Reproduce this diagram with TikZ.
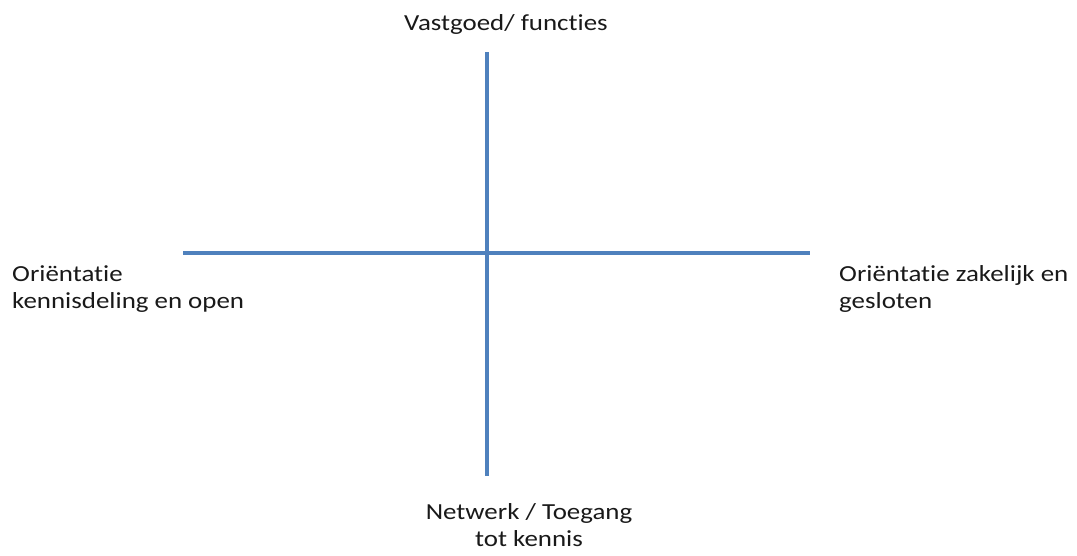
\documentclass[tikz,border=0pt]{standalone}
\usepackage{fontspec}
\setmainfont{Carlito}[FakeStretch=1.17,Ligatures=NoCommon]
\definecolor{axisblue}{HTML}{4F81BD}
\begin{document}
\begin{tikzpicture}[x=1pt,y=-1pt,
  axis/.style={draw=axisblue,line width=4pt},
  lbl/.style={inner sep=0pt,font=\fontsize{23}{27}\selectfont,text=black!90}]
\useasboundingbox (0,0) rectangle (1077,555);
% end points of the two axes
\coordinate (top) at (487,52);
\coordinate (bottom) at (487,476);
\coordinate (left) at (183,253);
\coordinate (right) at (810,253);
\draw[axis] (left) -- (right);
\draw[axis] (top) -- (bottom);
% labels at the four ends (base anchor = last line)
\node[lbl,anchor=base] (ntop) at (506,30) {Vastgoed/ functies};
\node[lbl,anchor=base west,align=left] (nleft) at (12,308) {Oriëntatie\\kennisdeling en open};
\node[lbl,anchor=base west,align=left] (nright) at (839,308) {Oriëntatie zakelijk en\\gesloten};
\node[lbl,anchor=base,align=center] (nbottom) at (529,546) {Netwerk / Toegang\\tot kennis};
\end{tikzpicture}
\end{document}
